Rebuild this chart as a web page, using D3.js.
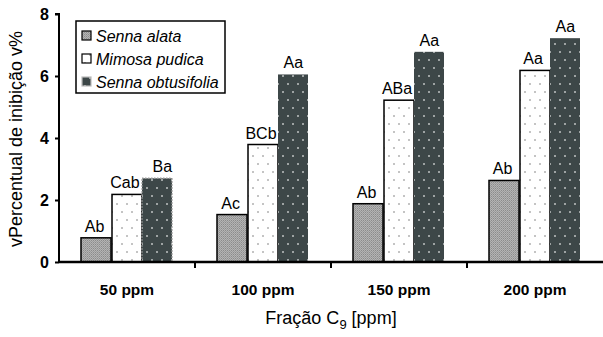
<!DOCTYPE html>
<html>
<head>
<meta charset="utf-8">
<script src="https://cdn.jsdelivr.net/npm/d3@7"></script>
<style>
  body { margin: 0; background: #fff; }
  svg text { font-family: "Liberation Sans", Arial, Helvetica, sans-serif; }
</style>
</head>
<body>
<div id="chart"></div>
<script>
// categories and series
var doses = ["50 ppm", "100 ppm", "150 ppm", "200 ppm"];
var species = ["Senna alata", "Mimosa pudica", "Senna obtusifolia"];
var sennaAlata = [0.78, 1.53, 1.88, 2.63];
var mimosaPudica = [2.18, 3.79, 5.22, 6.18];
var sennaObtusifolia = [2.7, 6.05, 6.78, 7.22];
var labelsAlata = ["Ab", "Ac", "Ab", "Ab"];
var labelsMimosa = ["Cab", "BCb", "ABa", "Aa"];
var labelsObtus = ["Ba", "Aa", "Aa", "Aa"];
var yTicks = [0, 2, 4, 6, 8];

var width = 603, height = 337;
var margin = { top: 14, right: 0, bottom: 75, left: 59 };

var svg = d3.select("#chart").append("svg")
    .attr("width", width).attr("height", height);

// fill patterns
var defs = svg.append("defs");
var pChk = defs.append("pattern").attr("id", "pAlata")
    .attr("patternUnits", "userSpaceOnUse").attr("width", 2).attr("height", 2);
pChk.append("rect").attr("width", 2).attr("height", 2).attr("fill", "#b4b4b4");
pChk.append("rect").attr("width", 1).attr("height", 1).attr("fill", "#8c8c8c");
pChk.append("rect").attr("x", 1).attr("y", 1).attr("width", 1).attr("height", 1).attr("fill", "#9c9c9c");

var pDot = defs.append("pattern").attr("id", "pMimosa")
    .attr("patternUnits", "userSpaceOnUse").attr("width", 10).attr("height", 16);
pDot.append("rect").attr("width", 10).attr("height", 16).attr("fill", "#fff");
pDot.append("rect").attr("x", 2).attr("y", 3).attr("width", 2).attr("height", 2).attr("fill", "#c4c4c4");
pDot.append("rect").attr("x", 7).attr("y", 11).attr("width", 2).attr("height", 2).attr("fill", "#c4c4c4");

var pDark = defs.append("pattern").attr("id", "pObtus")
    .attr("patternUnits", "userSpaceOnUse").attr("width", 10).attr("height", 16);
pDark.append("rect").attr("width", 10).attr("height", 16).attr("fill", "#3d4748");
pDark.append("rect").attr("x", 2).attr("y", 3).attr("width", 2).attr("height", 2).attr("fill", "#9ea3a3");
pDark.append("rect").attr("x", 7).attr("y", 11).attr("width", 2).attr("height", 2).attr("fill", "#9ea3a3");

var fills = ["url(#pAlata)", "url(#pMimosa)", "url(#pObtus)"];
var strokes = ["#000", "#000", "none"];

var x0 = d3.scaleBand().domain(doses)
    .range([margin.left, width - margin.right]);
var x1 = d3.scaleBand().domain(species)
    .range([0, x0.bandwidth()]).paddingInner(0).paddingOuter(0.74);
var y = d3.scaleLinear().domain([0, 8])
    .range([height - margin.bottom, margin.top]);

var rows = doses.map(function(d, i) {
    return [
        { sp: species[0], v: sennaAlata[i], lab: labelsAlata[i], k: 0 },
        { sp: species[1], v: mimosaPudica[i], lab: labelsMimosa[i], k: 1 },
        { sp: species[2], v: sennaObtusifolia[i], lab: labelsObtus[i], k: 2 }
    ];
});

var groups = svg.append("g").selectAll("g").data(rows).enter().append("g")
    .attr("transform", function(d, i) { return "translate(" + Math.round(x0(doses[i])) + ",0)"; });

groups.selectAll("rect").data(function(d) { return d; }).enter().append("rect")
    .attr("x", function(d) { return Math.round(x1(d.sp)); })
    .attr("y", function(d) { return y(d.v); })
    .attr("width", Math.round(x1.bandwidth()))
    .attr("height", function(d) { return y(0) - y(d.v); })
    .attr("fill", function(d) { return fills[d.k]; })
    .attr("stroke", function(d) { return strokes[d.k]; })
    .attr("stroke-width", 1.5);

// dotted outline on first dark bar
svg.append("rect")
    .attr("x", Math.round(x0(doses[0])) + Math.round(x1(species[2])))
    .attr("y", y(sennaObtusifolia[0]))
    .attr("width", Math.round(x1.bandwidth()))
    .attr("height", y(0) - y(sennaObtusifolia[0]))
    .attr("fill", "none").attr("stroke", "#999")
    .attr("stroke-width", 1.5).attr("stroke-dasharray", "1.5,1.5");

groups.selectAll("text").data(function(d) { return d; }).enter().append("text")
    .attr("x", function(d, i, n) {
        var shift = (d.k == 2 && d.v < 3) ? 5 : (d.k == 2 ? 0 : -2);
        return x1(d.sp) + x1.bandwidth() / 2 + shift;
    })
    .attr("y", function(d) { return y(d.v) - 6; })
    .attr("text-anchor", "middle")
    .style("font-size", "16px")
    .text(function(d) { return d.lab; });

// axes
var yAxis = d3.axisLeft(y).tickValues(yTicks).tickSize(4).tickPadding(6);
var gy = svg.append("g").attr("transform", "translate(" + margin.left + ",0)").call(yAxis);
gy.attr("font-family", null);
gy.select(".domain").attr("stroke-width", 2).attr("d", "M-4," + y(8) + "H0V" + y(0));
gy.selectAll(".tick line").attr("stroke-width", 2);
gy.selectAll(".tick text").style("font-size", "16px").style("font-weight", "bold");

var xb = svg.append("g").attr("transform", "translate(0," + y(0) + ")");
xb.append("line").attr("x1", margin.left).attr("x2", width)
    .attr("stroke", "#000").attr("stroke-width", 2.5);
xb.selectAll("line.tk").data(doses.slice(1)).enter().append("line").attr("class", "tk")
    .attr("x1", function(d) { return x0(d); }).attr("x2", function(d) { return x0(d); })
    .attr("y1", 0).attr("y2", 6).attr("stroke", "#000").attr("stroke-width", 2);
xb.selectAll("text").data(doses).enter().append("text")
    .attr("x", function(d) { return x0(d) + x0.bandwidth() / 2; })
    .attr("y", 33)
    .attr("text-anchor", "middle")
    .style("font-size", "15.5px").style("font-weight", "bold")
    .text(function(d) { return d; });

// axis titles
var xt = svg.append("text").attr("x", 331).attr("y", 324)
    .attr("text-anchor", "middle").style("font-size", "18px");
xt.append("tspan").text("Fração C");
xt.append("tspan").attr("dy", 5).style("font-size", "13px").text("9");
xt.append("tspan").attr("dy", -5).text(" [ppm]");

svg.append("text")
    .attr("transform", "translate(22,139) rotate(-90)")
    .attr("text-anchor", "middle").style("font-size", "18px")
    .text("vPercentual de inibição v%");

// legend
var lg = svg.append("g").attr("transform", "translate(76,21)");
lg.append("rect").attr("width", 149).attr("height", 72)
    .attr("fill", "#fff").attr("stroke", "#000").attr("stroke-width", 1.5);
var li = lg.selectAll("g").data(species).enter().append("g")
    .attr("transform", function(d, i) { return "translate(6," + (15 + i * 23) + ")"; });
li.append("rect").attr("x", 0).attr("y", -5).attr("width", 9).attr("height", 9)
    .attr("fill", function(d, i) { return fills[i]; })
    .attr("stroke", function(d, i) { return i == 2 ? "#bbb" : "#000"; })
    .attr("stroke-width", 1.2);
li.append("text").attr("x", 14).attr("y", 6)
    .style("font-size", "16px").style("font-style", "italic")
    .text(function(d) { return d; });
</script>
</body>
</html>
